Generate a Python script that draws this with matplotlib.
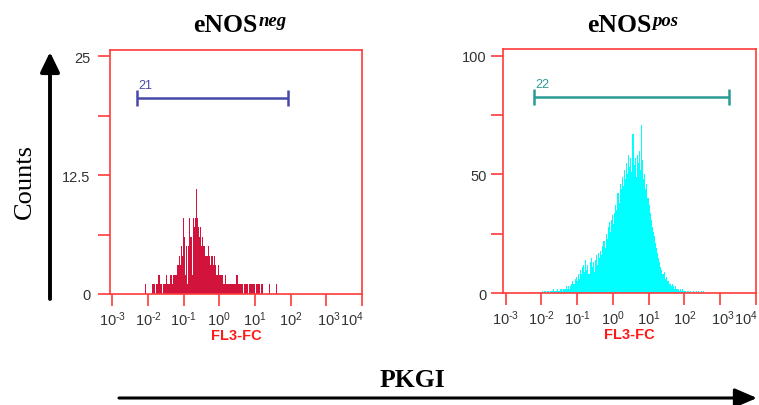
import numpy as np
import matplotlib
matplotlib.use("Agg")
import matplotlib.pyplot as plt
from matplotlib.patches import FancyArrowPatch
from matplotlib.transforms import ScaledTranslation

plt.rcParams["mathtext.fontset"] = "custom"
plt.rcParams["mathtext.rm"] = "Liberation Sans"
plt.rcParams["font.family"] = ["Liberation Sans", "DejaVu Sans"]

# ---------------------------------------------------------------- data
# FL3 histograms: counts per channel, channels are LOG_CHANNEL decades wide
LOG_CHANNEL = 0.03

neg_log_start = -2.10
neg_counts = [
    1, 0, 0, 0, 0, 0, 0, 1,
    1, 1, 0, 1, 1, 2, 1, 1, 0, 1, 1, 1, 2, 1, 1, 1,
    2, 2, 1, 2, 2,
    2, 3, 3, 4, 3,
    5, 4, 8, 6,
    2, 5, 1, 5,
    8, 6, 2, 8, 7, 8,
    11,
    8, 7, 6, 7,
    5, 6, 5, 5, 4,
    4, 5, 4, 3, 4, 4,
    3, 4, 3, 2,
    2, 3, 2, 2, 2,
    1, 1, 2, 1, 1, 1, 1, 1, 1, 1, 1,
    1, 1, 2, 1, 1, 1, 1,
    1, 0, 1, 1, 1, 1, 0, 1, 1, 1, 1, 1, 0, 1, 1, 1, 1, 0, 1, 1,
    0, 0, 0, 0, 0,
    1,
    0, 0, 0, 0, 0, 0,
    1,
]

pos_log_start = -2.00
pos_counts = [
    0, 1, 0, 1, 0, 1, 1, 0, 1, 1,
    1, 2, 1, 1, 1, 2, 1, 2, 2, 1,
    2, 2, 2, 3, 2, 3, 2, 3, 4, 5,
    4, 6, 7, 5, 8, 6, 10, 8, 11, 12,
    9, 14, 10, 12, 8, 13, 15, 11, 13, 9,
    14, 16, 12, 17, 15, 18, 16, 20, 22, 19,
    25, 23, 28, 30, 26, 31, 33, 29, 34, 37,
    35, 42, 38, 46, 44, 49, 45, 52, 48, 55,
    50, 58, 53, 57, 51, 67, 54, 57, 49, 58,
    55, 60, 52, 71, 56, 48, 50, 44, 46, 40,
    37, 34, 31, 28, 26, 24, 21, 19, 17, 15,
    13, 11, 10, 8, 9, 6, 7, 5, 5, 4,
    4, 3, 4, 3, 2, 3, 2, 2, 1, 2,
    1, 2, 1, 1, 1, 0, 1, 1, 0, 1,
    0, 1, 0, 0, 1, 0, 1, 0, 0, 1,
    0, 1,
]

# marker gates: (low, high, count level, label)
neg_gate = (0.0048, 86.0, 20.6, "21")
pos_gate = (0.0061, 1730.0, 82.6, "22")

x_decades = [-3, -2, -1, 0, 1, 2, 3, 4]
neg_yticks = [0, 6.25, 12.5, 18.75, 25]
neg_ylabels = ["0", "", "12.5", "", "25"]
pos_yticks = [0, 25, 50, 75, 100]
pos_ylabels = ["0", "", "50", "", "100"]

# ---------------------------------------------------------------- layout
W, H = 759, 406
fig = plt.figure(figsize=(W / 100, H / 100), dpi=100, facecolor="white")


def fx(px):
    return px / W


def fy(py):
    return 1 - py / H


ax_neg = fig.add_axes([fx(110), fy(295), (362 - 110) / W, (295 - 51) / H])
ax_pos = fig.add_axes([fx(503), fy(294.3), (756 - 503) / W, (294.3 - 50) / H])

BOX_RED = "#ff3b3b"
TICK_TXT = "#333333"


def decade_label(d):
    if d < 0:
        return r"$\mathregular{10^{\text{-}%d}}$" % -d
    return r"$\mathregular{10^{%d}}$" % d


def style_axis(ax, yticks, ylabels, ytop, ypad, hist_color, counts, log_start, gate, gate_color):
    edges = 10.0 ** (log_start + LOG_CHANNEL * np.arange(len(counts) + 1))
    ax.stairs(counts, edges, fill=True, color=hist_color, linewidth=0)

    ax.set_xscale("log")
    ax.set_xlim(10 ** -3.07, 10 ** 4.005)
    ax.set_ylim(0, ytop)

    ax.set_xticks([10.0 ** d for d in x_decades])
    ax.set_xticklabels([decade_label(d) for d in x_decades])
    ax.xaxis.set_minor_locator(matplotlib.ticker.NullLocator())
    ax.set_yticks(yticks)
    ax.set_yticklabels(ylabels)

    for sp in ax.spines.values():
        sp.set_color(BOX_RED)
        sp.set_linewidth(1.2)
    ax.tick_params(axis="both", direction="out", length=8.8, width=1.2,
                   color=BOX_RED, labelcolor=TICK_TXT, labelsize=10.5)
    ax.tick_params(axis="x", pad=2)
    ax.tick_params(axis="y", pad=ypad)

    # the last two decade labels crowd together at the right edge
    labels = ax.get_xticklabels()
    labels[-2].set_transform(labels[-2].get_transform()
                             + ScaledTranslation(3 / 100, 0, fig.dpi_scale_trans))
    labels[-1].set_transform(labels[-1].get_transform()
                             + ScaledTranslation(-10 / 100, 0, fig.dpi_scale_trans))

    ax.set_xlabel("FL3-FC", color="#ff1a1a", fontsize=10.5, fontweight="bold", labelpad=0)

    lo, hi, lvl, lab = gate
    ax.plot([lo, hi], [lvl, lvl], color=gate_color, lw=1.8, marker="|",
            markersize=12, markeredgewidth=1.8, solid_capstyle="butt")
    ax.annotate(lab, xy=(lo, lvl), xytext=(1, 5), textcoords="offset points",
                color=gate_color, fontsize=9, ha="left", va="bottom")


style_axis(ax_neg, neg_yticks, neg_ylabels, 25.66, 5.5, "#d2143c",
           neg_counts, neg_log_start, neg_gate, "#4848a8")
style_axis(ax_pos, pos_yticks, pos_ylabels, 102.8, 3.0, "#00ffff",
           pos_counts, pos_log_start, pos_gate, "#2a9a94")

# ---------------------------------------------------------------- titles
SERIF = ["Liberation Serif", "DejaVu Serif"]
for right_px, sup in [(258, "neg"), (652, "pos")]:
    fig.text(fx(right_px), fy(31.7), "eNOS", ha="right", va="baseline",
             family=SERIF, fontweight="bold", fontsize=18.5, color="black")
    fig.text(fx(right_px + 0.5), fy(26.5), sup, ha="left", va="baseline",
             family=SERIF, fontweight="bold", fontstyle="italic", fontsize=13.5,
             color="black")

fig.text(fx(25), fy(182), "Counts", rotation=90, ha="center", va="center",
         family=SERIF, fontsize=19, color="black")
fig.text(fx(380), fy(387), "PKGI", ha="left", va="baseline",
         family=SERIF, fontweight="bold", fontsize=18.5, color="black")

# ---------------------------------------------------------------- arrows
up_arrow = FancyArrowPatch((fx(50), fy(300)), (fx(50), fy(53)),
                           transform=fig.transFigure,
                           arrowstyle="-|>,head_length=12,head_width=5.8",
                           mutation_scale=1, lw=2.8, color="black",
                           shrinkA=0, shrinkB=0)
right_arrow = FancyArrowPatch((fx(119), fy(399)), (fx(757), fy(399)),
                              transform=fig.transFigure,
                              arrowstyle="-|>,head_length=13.5,head_width=5.8",
                              mutation_scale=1, lw=2.2, color="black",
                              shrinkA=0, shrinkB=0)
fig.add_artist(up_arrow)
fig.add_artist(right_arrow)

fig.savefig("out.png", dpi=100, facecolor="white")
